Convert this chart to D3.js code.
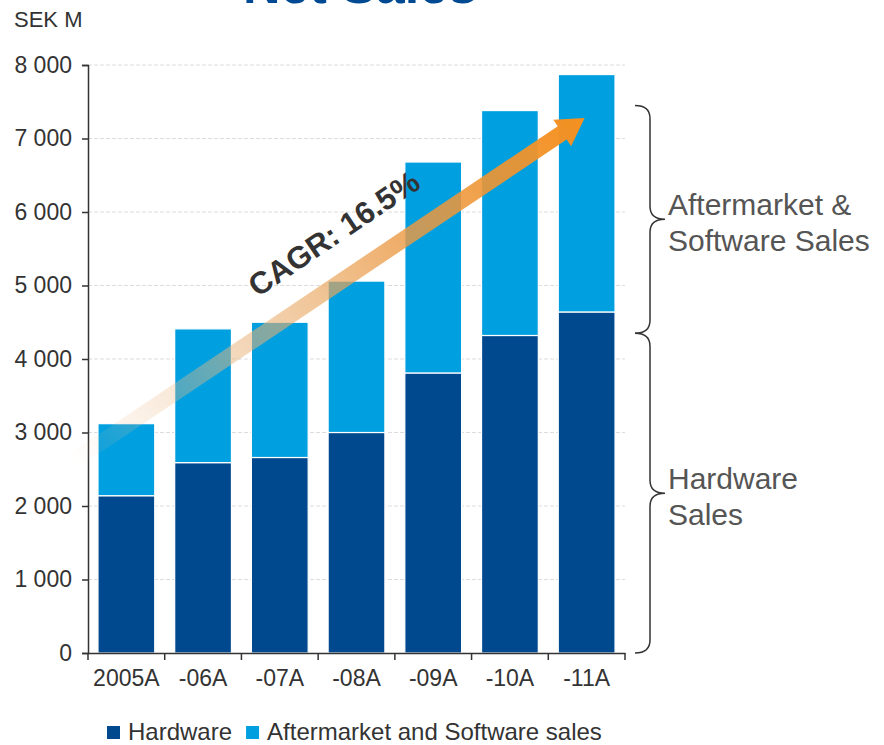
<!DOCTYPE html>
<html>
<head>
<meta charset="utf-8">
<script src="https://cdn.jsdelivr.net/npm/d3@7"></script>
<style>
  html, body { margin: 0; padding: 0; background: #fff; }
  svg { display: block; font-family: "Liberation Sans", Arial, sans-serif; }
</style>
</head>
<body>
<svg id="chart" width="884" height="745"></svg>
<script>
// ---- data ----
const categories = ["2005A", "-06A", "-07A", "-08A", "-09A", "-10A", "-11A"];
const hardware = [2140, 2590, 2660, 3000, 3810, 4320, 4640];
const aftermarket = [980, 1820, 1840, 2060, 2870, 3060, 3230];
const seriesNames = ["Hardware", "Aftermarket and Software sales"];
const yTicks = [0, 1000, 2000, 3000, 4000, 5000, 6000, 7000, 8000];
const braceRanges = [[4350, 7450], [0, 4350]];
const braceLabels = [["Aftermarket &", "Software Sales"], ["Hardware", "Sales"]];
const cagrLabel = "CAGR: 16.5%";
const arrowFrom = { cat: "2005A", value: 2600 };
const arrowTo = { cat: "-11A", value: 7280 };

const colors = { hardware: "#00498f", aftermarket: "#009fdf" };
const svg = d3.select("#chart");

const rows = categories.map((c, i) => ({ cat: c, hardware: hardware[i], aftermarket: aftermarket[i] }));

const x = d3.scaleBand().domain(categories).range([88, 625]).paddingInner(0.26).paddingOuter(0.13);
const y = d3.scaleLinear().domain([0, 8000]).range([653, 65]);

// title (cut off at top, as in the reference)
svg.append("text").attr("x", 360).attr("y", 3).attr("text-anchor", "middle")
  .attr("font-size", 52).attr("font-weight", "bold").attr("fill", "#004a94").text("Net Sales");

// unit label
svg.append("text").attr("x", 14).attr("y", 27).attr("font-size", 22).attr("fill", "#333").text("SEK M");

// gridlines
svg.append("g").selectAll("line").data(yTicks.filter(d => d > 0)).join("line")
  .attr("x1", 88).attr("x2", 625).attr("y1", d => y(d)).attr("y2", d => y(d))
  .attr("stroke", "#dcdcdc").attr("stroke-width", 1).attr("stroke-dasharray", "4,2");

// bars
const stack = d3.stack().keys(["hardware", "aftermarket"]);
const stacked = stack(rows);
svg.append("g").selectAll("g").data(stacked).join("g")
  .attr("fill", d => colors[d.key])
  .selectAll("rect").data(d => d).join("rect")
  .attr("x", d => x(d.data.cat))
  .attr("width", x.bandwidth())
  .attr("y", d => y(d[1]))
  .attr("height", d => y(d[0]) - y(d[1]))
  .attr("stroke", "#fff").attr("stroke-width", 1.2);

// y axis
const yAxis = d3.axisLeft(y).tickValues(yTicks).tickSize(6).tickPadding(10)
  .tickFormat(d => d3.format(",")(d).replace(/,/g, " "));
const gy = svg.append("g").attr("transform", "translate(88,0)").call(yAxis);
gy.select(".domain").attr("stroke", "#333").attr("stroke-width", 1.5);
gy.selectAll(".tick line").attr("stroke", "#333").attr("stroke-width", 1.5);
gy.selectAll(".tick text").attr("font-size", 23).attr("fill", "#333")
  .attr("font-family", "Liberation Sans, Arial, sans-serif");

// x axis
const xAxis = d3.axisBottom(x).tickSize(0).tickPadding(17);
const gx = svg.append("g").attr("transform", `translate(0,${y(0)})`).call(xAxis);
gx.select(".domain").attr("stroke", "#333").attr("stroke-width", 1.5);
gx.selectAll(".tick text").attr("font-size", 23).attr("fill", "#333")
  .attr("font-family", "Liberation Sans, Arial, sans-serif");
const bounds = categories.map(c => x(c) - x.step() * x.paddingInner() / 2).concat([x.range()[1]]);
gx.append("g").selectAll("line").data(bounds).join("line")
  .attr("x1", d => d).attr("x2", d => d).attr("y1", 0).attr("y2", 7)
  .attr("stroke", "#333").attr("stroke-width", 1.5);

// CAGR arrow
const defs = svg.append("defs");
const grad = defs.append("linearGradient").attr("id", "arrowGrad")
  .attr("x1", 0).attr("x2", 1).attr("y1", 0).attr("y2", 0);
[[0, "#f2c8a0", 0], [0.3, "#e8b680", 0.5], [0.65, "#eb9a45", 0.82], [1, "#f5901e", 1]]
  .forEach(([o, c, op]) => grad.append("stop").attr("offset", o).attr("stop-color", c).attr("stop-opacity", op));

const sx = x(arrowFrom.cat) - 26, sy = y(arrowFrom.value);
const ex = x(arrowTo.cat) + x.bandwidth() / 2 - 2, ey = y(arrowTo.value);
const L = Math.hypot(ex - sx, ey - sy);
const ang = Math.atan2(ey - sy, ex - sx) * 180 / Math.PI;
const hw = 8, hl = 27, hh = 16;
const ag = svg.append("g").attr("transform", `translate(${sx},${sy}) rotate(${ang})`);
ag.append("path")
  .attr("d", `M0,${-hw}L${L - hl},${-hw}L${L - hl},${-hh}L${L},0L${L - hl},${hh}L${L - hl},${hw}L0,${hw}Z`)
  .attr("fill", "url(#arrowGrad)");
ag.append("text")
  .attr("transform", `translate(${L / 2 + 36},-33)`)
  .attr("text-anchor", "middle")
  .attr("font-size", 31).attr("font-weight", "bold").attr("fill", "#333").text(cagrLabel);

// braces
function bracePath(x0, yTop, yBot, w, r) {
  const xm = x0 + w / 2, mid = (yTop + yBot) / 2;
  return `M${x0},${yTop}Q${xm},${yTop} ${xm},${yTop + r}V${mid - r}Q${xm},${mid} ${x0 + w},${mid}` +
         `Q${xm},${mid} ${xm},${mid + r}V${yBot - r}Q${xm},${yBot} ${x0},${yBot}`;
}
braceRanges.forEach((rg, i) => {
  const yTop = y(rg[1]), yBot = y(rg[0]);
  svg.append("path").attr("d", bracePath(635, yTop, yBot, 30, 13))
    .attr("fill", "none").attr("stroke", "#333").attr("stroke-width", 1.5);
  const mid = (yTop + yBot) / 2;
  const t = svg.append("text").attr("x", 668).attr("y", mid - 4).attr("font-size", 30).attr("fill", "#555");
  braceLabels[i].forEach((s, j) => t.append("tspan").attr("x", 668).attr("dy", j === 0 ? 0 : 36).text(s));
});

// legend
const lg = svg.append("g").attr("transform", "translate(107,740)");
let lx = 0;
seriesNames.forEach((name, i) => {
  const col = i === 0 ? colors.hardware : colors.aftermarket;
  lg.append("rect").attr("x", lx).attr("y", -14).attr("width", 13).attr("height", 13).attr("fill", col);
  const t = lg.append("text").attr("x", lx + 21).attr("y", 0).attr("font-size", 24).attr("fill", "#333").text(name);
  lx += 21 + t.node().getComputedTextLength() + 14;
});
</script>
</body>
</html>
